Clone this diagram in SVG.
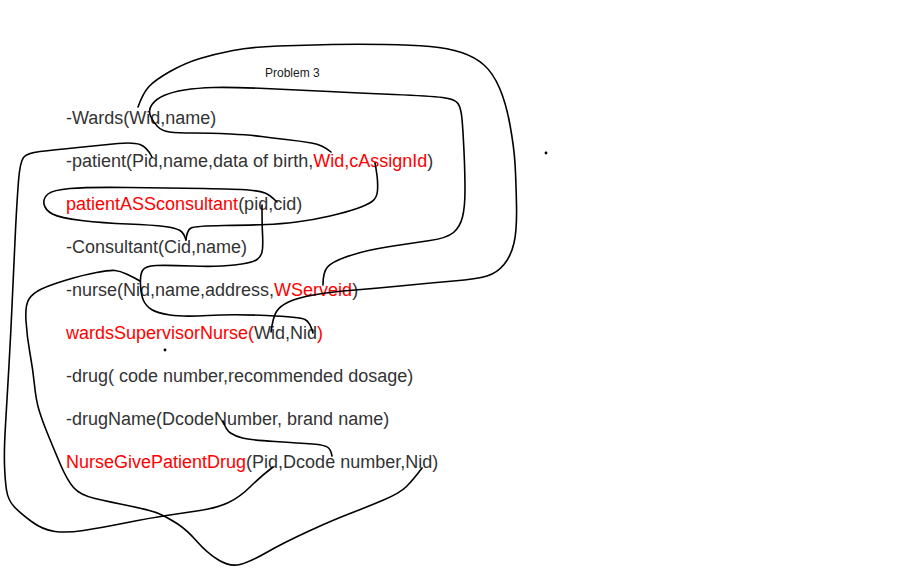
<svg xmlns="http://www.w3.org/2000/svg" width="905" height="581" viewBox="0 0 905 581">
<style>
.t{font-family:"Liberation Sans",Arial,sans-serif;font-size:18px;fill:#333333;}
.r{fill:#ff0000;}
.title{font-family:"Liberation Sans",Arial,sans-serif;font-size:12px;fill:#1a1a1a;}
.c{fill:none;stroke:#000000;stroke-width:1.6;stroke-linecap:round;stroke-linejoin:round;}
</style>
<rect width="905" height="581" fill="#ffffff"/>
<g id="title"><text class="title" x="265" y="77">Problem 3</text></g>
<g id="wards"><text class="t" x="66" y="124">-Wards(Wid,name)</text></g>
<g id="patient"><text class="t" x="66" y="167">-patient(Pid,name,data of birth,<tspan class="r">Wid,cAssignId</tspan>)</text></g>
<g id="patientASSconsultant"><text class="t" x="66" y="210"><tspan class="r">patientASSconsultant</tspan>(pid,cid)</text></g>
<g id="consultant"><text class="t" x="66" y="253">-Consultant(Cid,name)</text></g>
<g id="nurse"><text class="t" x="66" y="296">-nurse(Nid,name,address,<tspan class="r">WServeid</tspan>)</text></g>
<g id="wardsSupervisorNurse"><text class="t" x="66" y="339"><tspan class="r">wardsSupervisorNurse(</tspan>Wid,Nid<tspan class="r">)</tspan></text></g>
<g id="drug"><text class="t" x="66" y="382">-drug( code number,recommended dosage)</text></g>
<g id="drugName"><text class="t" x="66" y="425">-drugName(DcodeNumber, brand name)</text></g>
<g id="nurseGivePatientDrug"><text class="t" x="66" y="468"><tspan class="r">NurseGivePatientDrug</tspan>(Pid,Dcode number,Nid)</text></g>
<g id="connectors">
<path class="c" d="M138,107 Q143,93 149,86.5 Q155,80 170,71.5 Q185,63 200,58.5 Q215,54 233,50.5 Q251,47 278,46 Q305,45 331.5,44.5 Q358,44 385,44.5 Q412,45 430,46.5 Q448,48 461.5,52.5 Q475,57 484,65 Q493,73 499.5,88 Q506,103 510,125 Q514,147 515,163.5 Q516,180 516.5,205 Q517,230 514,243 Q511,256 504,264.5 Q497,273 487,276 Q477,279 453.5,281 Q430,283 405,285.5 Q380,288 355,290 Q330,292 313.5,295 Q297,298 288.5,302 Q280,306 276.5,311.5 Q273,317 271,332"/>
<path class="c" d="M331,152 Q323,145 311.5,143 Q300,141 286,139.5 Q272,138 261.5,136.5 Q251,135 230.5,134 Q210,133 193.5,133 Q177,133 169.5,132 Q162,131 157.5,126.5 Q153,122 150.5,116 Q148,110 152,104.5 Q156,99 164,95.5 Q172,92 184.5,90 Q197,88 213.5,87.5 Q230,87 265,88.5 Q300,90 329,91.5 Q358,93 394,94.5 Q430,96 442.5,97.5 Q455,99 458,103.5 Q461,108 462,119 Q463,130 464,151.5 Q465,173 465,190 Q465,207 462.5,217 Q460,227 453.5,232.5 Q447,238 430,240.5 Q413,243 396.5,245.5 Q380,248 368.5,250.5 Q357,253 344.5,257.5 Q332,262 327.5,267 Q323,272 323,285"/>
<path class="c" d="M152,157 Q147,147 140,144.5 Q133,142 118,143.5 Q103,145 78,147.5 Q53,150 40,151.5 Q27,153 23.5,157.5 Q20,162 18.5,181 Q17,200 15.5,230 Q14,260 12.5,295 Q11,330 9,365 Q7,400 5.5,425 Q4,450 4.5,465 Q5,480 6.5,490 Q8,500 14,506.5 Q20,513 31.5,521.5 Q43,530 55,531.5 Q67,533 83.5,530.5 Q100,528 125,523 Q150,518 166.5,515.5 Q183,513 200,510.5 Q217,508 228.5,502.5 Q240,497 250,487 Q260,477 273,467"/>
<path class="c" d="M277,202 Q270,195 265,193 Q260,191 248.5,190 Q237,189 203.5,188.5 Q170,188 128.5,187.5 Q87,187 70,188.5 Q53,190 48,194 Q43,198 44,204 Q45,210 52.5,214 Q60,218 81.5,220.5 Q103,223 128,224 Q153,225 164.5,226.5 Q176,228 180,230.5 Q184,233 186,240"/>
<path class="c" d="M186,240 Q187,230 191,228 Q195,226 224,225.5 Q253,225 266.5,224.5 Q280,224 296.5,222 Q313,220 330,216 Q347,212 357,208.5 Q367,205 372,201.5 Q377,198 377.5,190.5 Q378,183 377,175.5 Q376,168 375,163"/>
<path class="c" d="M262,205 Q262,225 262.5,233.5 Q263,242 262.5,249 Q262,256 257,259.5 Q252,263 234.5,265 Q217,267 192,266 Q167,265 156,265.5 Q145,266 142.5,270.5 Q140,275 140.5,285 Q141,295 143.5,300.5 Q146,306 151.5,309.5 Q157,313 170,315 Q183,317 208,315.5 Q233,314 266.5,315.5 Q300,317 305,319.5 Q310,322 313,333"/>
<path class="c" d="M140,281 Q133,277 126.5,274 Q120,271 115,270.5 Q110,270 96.5,272.5 Q83,275 66.5,280 Q50,285 41.5,289 Q33,293 29,299 Q25,305 26,321 Q27,337 30,353.5 Q33,370 34.5,385 Q36,400 39,410 Q42,420 47.5,433.5 Q53,447 60,463.5 Q67,480 73.5,487.5 Q80,495 95,498.5 Q110,502 130,506 Q150,510 158.5,513.5 Q167,517 177,523.5 Q187,530 197,541.5 Q207,553 218.5,560 Q230,567 240,564.5 Q250,562 266.5,552.5 Q283,543 308,531.5 Q333,520 350,513.5 Q367,507 383.5,500 Q400,493 406.5,486.5 Q413,480 422,468"/>
<path class="c" d="M223,421 Q226,430 230.5,433 Q235,436 242.5,438 Q250,440 275,441.5 Q300,443 312.5,444 Q325,445 328,447.5 Q331,450 332,456"/>
</g>
<g id="marks">
<circle cx="546" cy="153" r="1.4" fill="#000"/>
<circle cx="165" cy="350" r="1.4" fill="#000"/>
</g>
</svg>
